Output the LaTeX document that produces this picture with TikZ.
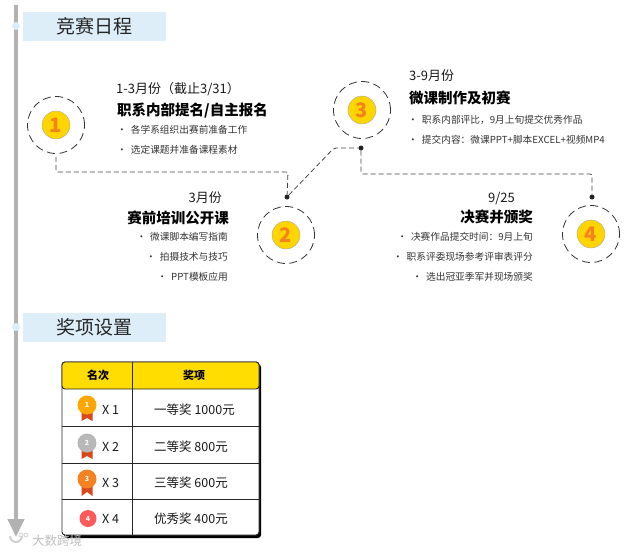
\documentclass[tikz,border=0pt]{standalone}
\usepackage{fontspec}
\setmainfont{Noto Sans CJK SC}
\usetikzlibrary{arrows.meta,calc,positioning}
\definecolor{headblue}{HTML}{DDEEF9}
\definecolor{axisgray}{HTML}{B2B2B2}
\definecolor{discgold}{HTML}{FFD500}
\definecolor{numorange}{HTML}{F58220}
\definecolor{tablegold}{HTML}{FFDD00}
\definecolor{ribbonred}{HTML}{D9481C}
\newcommand{\bul}{\textbullet\hspace{4pt}}
\begin{document}
\begin{tikzpicture}[
  x=1pt, y=-1pt,
  head/.style={fill=headblue, minimum width=143pt, minimum height=29pt, inner sep=0pt,
    font=\fontsize{19}{22}\selectfont, text=black!85},
  axisdot/.style={circle, fill=headblue, inner sep=0pt, minimum size=8pt},
  ring/.style={circle, draw=black!80, dash pattern=on 8pt off 4.5pt, line width=.8pt, minimum size=57pt, inner sep=0pt},
  disc/.style={circle, draw=black!35, fill=discgold, minimum size=28pt, inner sep=0pt,
    text=numorange, font=\fontsize{20}{22}\bfseries\selectfont},
  joint/.style={circle, fill=black!85, inner sep=0pt, minimum size=5pt},
  link/.style={draw=black!75, dash pattern=on 5pt off 3pt, line width=.8pt, rounded corners=2pt},
  month/.style={inner sep=0pt, font=\fontsize{13}{15}\selectfont, text=black!90},
  title/.style={inner sep=0pt, font=\fontsize{14.5}{17}\bfseries\selectfont},
  items/.style={inner sep=0pt, font=\fontsize{9.7}{20}\selectfont, text=black!80},
  cell/.style={inner sep=0pt, font=\fontsize{12.5}{14}\selectfont, text=black!90},
  cellhead/.style={inner sep=0pt, font=\fontsize{11}{13}\bfseries\selectfont},
  medal/.style={circle, inner sep=0pt, minimum size=19pt, text=white, font=\fontsize{7}{8}\bfseries\selectfont},
  ribbon/.style={fill=ribbonred}
]
\useasboundingbox (0,0) rectangle (626,554);
% time axis
\coordinate (axistop) at (16,5);
\coordinate (axisend) at (16,537);
\draw[axisgray, line width=4pt, -{Triangle[width=16pt,length=18pt]}] (axistop) -- (axisend);
\node[axisdot] (dot1) at (16,26) {};
\node[axisdot] (dot2) at (16,327) {};
\node[head] (sched) at (94.5,26) {竞赛日程};
\node[head] (prize) at (94.5,327) {奖项设置};

% stages
\node[ring] (ring1) at (56,125) {};
\node[disc] (num1) at (ring1) {1};
\node[ring] (ring2) at (286,235) {};
\node[disc] (num2) at (ring2) {2};
\node[ring] (ring3) at (362,110) {};
\node[disc] (num3) at (ring3) {3};
\node[ring] (ring4) at (591,234) {};
\node[disc] (num4) at (ring4) {4};
\node[joint] (joint2) at (287,197) {};
\node[joint] (joint3) at (361,148) {};
\node[joint] (joint4) at (592,197) {};
\coordinate[below=3pt of ring1] (tail1);
\draw[link] (tail1) |- (288,172) -- (joint2);
\draw[link] (joint2) -- (334,148) -- (joint3);
\draw[link] (joint3) |- (592,174) -- (joint4);

\node[month, anchor=west] (when1) at (116,89) {1-3月份（截止3/31）};
\node[title, anchor=west] (what1) at (117,111) {职系内部提名/自主报名};
\node[items, anchor=north west, align=left] (list1) at (117,125)
  {\bul 各学系组织出赛前准备工作\\\bul 选定课题并准备课程素材};

\node[month, anchor=east] (when2) at (222,198) {3月份};
\node[title, anchor=east] (what2) at (229,218) {赛前培训公开课};
\node[items, anchor=north east, align=right] (list2) at (228,232.5)
  {\bul 微课脚本编写指南\\\bul 拍摄技术与技巧\\\bul PPT模板应用};

\node[month, anchor=west] (when3) at (409,76) {3-9月份};
\node[title, anchor=west] (what3) at (409,98) {微课制作及初赛};
\node[items, anchor=north west, align=left] (list3) at (408,115.5)
  {\bul 职系内部评比，9月上旬提交优秀作品\\\bul 提交内容：微课PPT+脚本EXCEL+视频MP4};

\node[month, anchor=east] (when4) at (515,198) {9/25};
\node[title, anchor=east] (what4) at (533,217) {决赛并颁奖};
\node[items, anchor=north east, align=right] (list4) at (533,232.5)
  {\bul 决赛作品提交时间：9月上旬\\\bul 职系评委现场参考评审表评分\\\bul 选出冠亚季军并现场颁奖};

% prize table
\fill[black, rounded corners=3pt] (64,364) rectangle (261,538);
\draw[black!85, fill=white, line width=.9pt, rounded corners=3pt] (62,362) rectangle (259,535);
\draw[black!85, fill=tablegold, line width=.9pt, rounded corners=3pt] (62,389) -- (62,362) -- (259,362) -- (259,389) -- cycle;
\draw[black!85, line width=.9pt] (132,362) -- (132,535);
\draw[black!85, line width=.9pt] (62,426) -- (259,426);
\draw[black!85, line width=.9pt] (62,463) -- (259,463);
\draw[black!85, line width=.9pt] (62,499) -- (259,499);
\node[cellhead] (rankhead) at (98,375.5) {名次};
\node[cellhead] (awardhead) at (194,375.5) {奖项};

\fill[ribbon] (81.5,411) -- (81.5,421) -- (87,418) -- (92.5,421) -- (92.5,411) -- cycle;
\node[medal, fill=orange!70!yellow] (medal1) at (87,405) {1};
\node[cell, anchor=west] (count1) at (102,410) {X 1};
\node[cell] (award1) at (194.5,410) {一等奖 1000元};

\fill[ribbon] (81.5,447) -- (81.5,459) -- (87,456) -- (92.5,459) -- (92.5,447) -- cycle;
\node[medal, fill=black!28] (medal2) at (87,443) {2};
\node[cell, anchor=west] (count2) at (102,447) {X 2};
\node[cell] (award2) at (191,447) {二等奖 800元};

\fill[ribbon] (81.5,483) -- (81.5,496) -- (87,492) -- (92.5,496) -- (92.5,483) -- cycle;
\node[medal, fill=numorange] (medal3) at (87,479) {3};
\node[cell, anchor=west] (count3) at (102,483) {X 3};
\node[cell] (award3) at (191,483) {三等奖 600元};

\node[medal, fill=red!65!white, minimum size=17pt] (medal4) at (88,518.5) {4};
\node[cell, anchor=west] (count4) at (102,519) {X 4};
\node[cell] (award4) at (191,519) {优秀奖 400元};

% watermark
\draw[black!18, line width=2pt] (10,536) arc (180:360:6pt);
\draw[black!18, line width=.8pt] (21,535) circle (2pt);
\draw[black!18, line width=.8pt] (26,535) circle (2pt);
\node[inner sep=0pt, font=\fontsize{12.5}{14}\selectfont, text=black!25, anchor=west] (mark) at (32,541) {大数跨境};
\end{tikzpicture}
\end{document}
